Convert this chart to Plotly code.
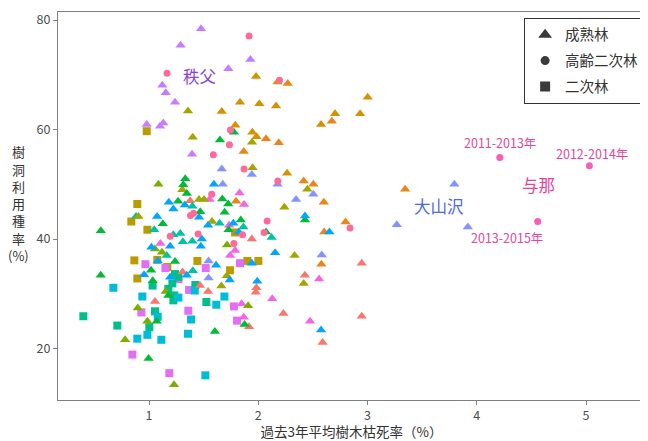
import plotly.graph_objects as go

# ---- data (x: 過去3年平均樹木枯死率 %, y: 樹洞利用種率 %) ----
chichibu_x = [1.476, 1.289, 1.928, 1.726, 1.122, 1.153, 1.238, 0.979, 1.101, 1.131, 1.394]
chichibu_y = [78.4, 75.4, 72.8, 71.1, 68.1, 66.7, 65.0, 60.9, 60.6, 61.2, 55.5]

oyamazawa_x = [3.795, 3.268, 3.918, 2.504, 2.581, 1.666, 1.675, 1.941, 2.177, 2.346, 1.545, 1.545]
oyamazawa_y = [50.0, 42.6, 42.2, 48.2, 37.1, 52.8, 50.0, 51.8, 50.0, 47.2, 36.0, 32.9]

gold_tri_x = [1.980, 2.177, 1.833, 2.010, 2.163, 1.666, 1.790, 1.946, 1.984, 2.264, 3.002, 2.703, 2.932, 2.575]
gold_tri_y = [69.7, 68.7, 65.0, 64.7, 64.3, 63.3, 60.8, 59.5, 58.7, 52.0, 65.9, 62.9, 62.9, 60.9]

orange_tri_x = [2.270, 2.673, 2.071, 2.188, 1.867, 2.416, 2.504, 2.600, 2.799, 2.604, 3.344, 2.578, 1.797]
orange_tri_y = [68.4, 61.5, 58.3, 57.6, 56.0, 50.6, 50.0, 46.7, 43.1, 41.3, 49.1, 35.4, 46.9]

salmon_tri_x = [2.947, 2.427, 2.947, 2.589, 1.983, 1.977, 1.541, 2.230, 1.916, 1.376, 1.941, 1.307, 1.467, 1.055]
salmon_tri_y = [35.6, 33.4, 25.9, 21.1, 31.1, 30.3, 30.4, 26.4, 24.0, 47.0, 40.0, 34.0, 31.5, 28.6]

magenta_tri_x = [1.104, 1.554, 1.829, 1.870, 1.733, 1.788, 1.742, 1.847, 1.867, 2.128, 2.474, 2.557]
magenta_tri_y = [39.2, 47.2, 48.4, 46.3, 42.5, 37.9, 37.0, 28.2, 25.7, 29.1, 25.0, 32.7]

lightblue_tri_x = [1.594, 1.181, 1.223, 1.328, 1.458, 1.074, 1.541, 1.772, 1.822, 1.483, 1.193, 1.022, 1.474,
                   2.154, 1.080, 1.941, 1.614, 0.955, 1.193, 1.346, 1.739, 1.991, 2.428, 2.575, 2.651]
lightblue_tri_y = [50.0, 46.7, 45.5, 46.2, 44.0, 44.1, 42.5, 42.9, 41.3, 40.0, 38.7, 38.5, 38.7,
                   37.5, 36.0, 35.6, 35.2, 33.5, 33.0, 33.4, 32.5, 32.3, 44.2, 23.4, 41.3]

teal_tri_x = [0.881, 1.048, 1.222, 1.286, 1.310, 1.397, 1.397, 1.646, 1.864, 2.122, 1.401, 1.162]
teal_tri_y = [44.1, 41.7, 40.8, 41.0, 39.5, 39.6, 46.0, 42.9, 42.2, 40.3, 34.2, 37.0]

green_tri_x = [1.332, 1.314, 1.346, 1.266, 1.671, 1.725, 1.692, 1.469, 1.126, 1.840, 1.728, 0.559, 1.238,
               1.019, 1.034, 0.558, 1.071, 0.996, 1.603, 1.875, 1.177, 2.071, 1.649, 1.777, 2.428]
green_tri_y = [51.0, 49.9, 48.3, 46.9, 47.3, 46.4, 44.9, 45.0, 42.8, 43.5, 41.7, 41.5, 35.9,
               34.3, 32.4, 33.4, 25.0, 18.2, 23.1, 24.4, 29.7, 41.3, 58.1, 59.5, 43.5]

olive_tri_x = [1.357, 1.400, 1.943, 1.948, 1.305, 1.458, 1.504, 1.577, 1.712, 1.662, 2.332, 2.416, 2.239, 2.449, 0.903]
olive_tri_y = [63.4, 58.6, 57.7, 53.0, 49.0, 47.2, 47.2, 43.2, 33.3, 31.4, 37.0, 31.9, 45.8, 49.1, 44.1]

ygreen_tri_x = [1.086, 0.781, 0.897, 0.985, 1.229, 1.907, 1.055, 1.119, 1.153, 1.714]
ygreen_tri_y = [50.0, 21.6, 27.4, 25.0, 13.4, 27.8, 38.2, 37.6, 30.4, 38.9]

old_circ_x = [1.916, 1.165, 2.195, 1.745, 1.736, 1.589, 1.870, 2.179, 1.574, 2.081, 2.053, 1.777, 2.840,
              1.380, 1.408, 1.856, 1.449, 1.195]
old_circ_y = [77.1, 70.3, 69.0, 59.9, 57.2, 55.4, 52.8, 50.6, 48.2, 43.3, 41.2, 39.2, 42.0,
              44.3, 44.7, 40.8, 40.9, 40.5]

yona_x = [4.211, 5.031, 4.558]
yona_y = [54.9, 53.4, 43.2]
yona_labels = ["2011-2013年", "2012-2014年", "2013-2015年"]
yona_label_x = [4.213, 5.055, 4.277]
yona_label_y = [57.7, 55.7, 40.3]

gold_sq_x = [0.979, 0.893, 0.838, 0.985, 0.866, 1.076, 1.168, 0.893, 1.443, 1.900, 2.001, 1.742, 1.788]
gold_sq_y = [59.7, 46.4, 43.2, 41.7, 36.1, 36.2, 34.9, 32.8, 36.0, 36.0, 36.0, 34.3, 41.2]

magenta_sq_x = [0.967, 1.150, 1.519, 1.833, 1.367, 1.360, 1.777, 1.806, 0.930, 0.848, 1.186, 1.269]
magenta_sq_y = [35.4, 34.7, 34.7, 35.6, 30.7, 26.9, 27.7, 25.1, 26.6, 18.9, 15.5, 32.7]

tealg_sq_x = [1.238, 1.269, 1.214, 1.177, 1.232, 1.223, 1.424, 1.525, 1.033, 1.055, 1.003, 0.710, 0.399]
tealg_sq_y = [33.6, 33.1, 31.9, 30.9, 29.7, 28.8, 31.6, 28.5, 31.5, 26.8, 23.9, 24.2, 25.9]

cyan_sq_x = [0.674, 0.939, 1.080, 0.893, 0.985, 1.113, 1.385, 1.357, 1.516, 1.419, 1.616, 1.690, 1.269]
cyan_sq_y = [31.1, 29.5, 25.8, 21.8, 22.5, 21.6, 25.3, 22.7, 15.1, 30.6, 28.0, 29.5, 29.3]

site_labels = ["秩父", "大山沢", "与那"]
site_label_x = [1.460, 3.655, 4.561]
site_label_y = [69.7, 46.0, 49.8]

legend_names = ["成熟林", "高齢二次林", "二次林"]
x_ticks = [1, 2, 3, 4, 5]
y_ticks = [20, 40, 60, 80]
y_title_chars = ["樹", "洞", "利", "用", "種", "率", "(%)"]

FONT = "Noto Sans CJK JP"

fig = go.Figure()

def add(xs, ys, color, symbol, size):
    fig.add_trace(go.Scatter(x=xs, y=ys, mode="markers", showlegend=False, hoverinfo="skip",
                             marker=dict(color=color, symbol=symbol, size=size, line=dict(width=0))))

TRI, CIR, SQ = "triangle-up", "circle", "square"
add(gold_sq_x, gold_sq_y, "#B89C00", SQ, 8)
add(magenta_sq_x, magenta_sq_y, "#E36EF6", SQ, 8)
add(tealg_sq_x, tealg_sq_y, "#00BF8C", SQ, 8)
add(cyan_sq_x, cyan_sq_y, "#00BCD8", SQ, 8)
add(chichibu_x, chichibu_y, "#C77CFF", TRI, 9)
add(oyamazawa_x, oyamazawa_y, "#8494FF", TRI, 9)
add(gold_tri_x, gold_tri_y, "#D39200", TRI, 9)
add(orange_tri_x, orange_tri_y, "#E8861A", TRI, 9)
add(salmon_tri_x, salmon_tri_y, "#F8766D", TRI, 9)
add(magenta_tri_x, magenta_tri_y, "#F564E3", TRI, 9)
add(teal_tri_x, teal_tri_y, "#00C1A3", TRI, 9)
add(olive_tri_x, olive_tri_y, "#A3A500", TRI, 9)
add(ygreen_tri_x, ygreen_tri_y, "#7CAE00", TRI, 9)
add(green_tri_x, green_tri_y, "#00BA38", TRI, 9)
add(lightblue_tri_x, lightblue_tri_y, "#00A5FF", TRI, 9)
add(old_circ_x, old_circ_y, "#FF6A9A", CIR, 7)
add(yona_x, yona_y, "#F95DB5", CIR, 7)

# legend entries
for name, sym, sz in zip(legend_names, [TRI, CIR, SQ], [12, 9, 10]):
    fig.add_trace(go.Scatter(x=[None], y=[None], mode="markers", name=name, legendgroup=name,
                             marker=dict(color="#3A3A3A", symbol=sym, size=sz)))

site_colors = ["#8A44D8", "#4F6BD8", "#E8409A"]
for t, x, y, c in zip(site_labels, site_label_x, site_label_y, site_colors):
    fig.add_annotation(x=x, y=y, text=t, showarrow=False, font=dict(family=FONT, size=16.5, color=c))
for t, x, y in zip(yona_labels, yona_label_x, yona_label_y):
    fig.add_annotation(x=x, y=y, text=t, showarrow=False, font=dict(family=FONT, size=12.5, color="#E0489F"))

# the page body adds an 8px offset, so the figure is 640x433 with margins compensated
FIG_W, FIG_H = 640, 433
M_L, M_R, M_T, M_B = 50, 3, 1, 41
plot_h = FIG_H - M_T - M_B

# vertical y-axis title, one character per line
for i, ch in enumerate(y_title_chars):
    fig.add_annotation(xref="paper", yref="paper", x=-0.0681, xanchor="center", yanchor="middle",
                       y=(plot_h - (141 + i * 17.4)) / plot_h,
                       showarrow=False, text=ch,
                       font=dict(family=FONT, size=13, color="#333333"))

axis_common = dict(showgrid=False, zeroline=False, showline=True, linecolor="#808080", linewidth=1.3,
                   mirror=True, ticks="outside", ticklen=4, tickcolor="#808080",
                   ticklabeloverflow="allow",
                   tickfont=dict(family=FONT, size=12.5, color="#4D4D4D"))

fig.update_layout(
    width=FIG_W, height=FIG_H,
    margin=dict(l=M_L, r=M_R, t=M_T, b=M_B),
    paper_bgcolor="white", plot_bgcolor="white",
    font=dict(family=FONT, color="#333333"),
    xaxis=dict(range=[0.167, 5.54], tickvals=x_ticks,
               title=dict(text="過去3年平均樹木枯死率（%）", font=dict(family=FONT, size=13.5, color="#333333"),
                          standoff=6),
               **axis_common),
    yaxis=dict(range=[10.6, 81.47], tickvals=y_ticks, **axis_common),
    legend=dict(x=0.9985, y=0.985, xanchor="right", yanchor="top", bgcolor="white",
                bordercolor="#333333", borderwidth=1, tracegroupgap=4,
                font=dict(family=FONT, size=14.5, color="#333333")),
)

fig.write_html("out.html")
